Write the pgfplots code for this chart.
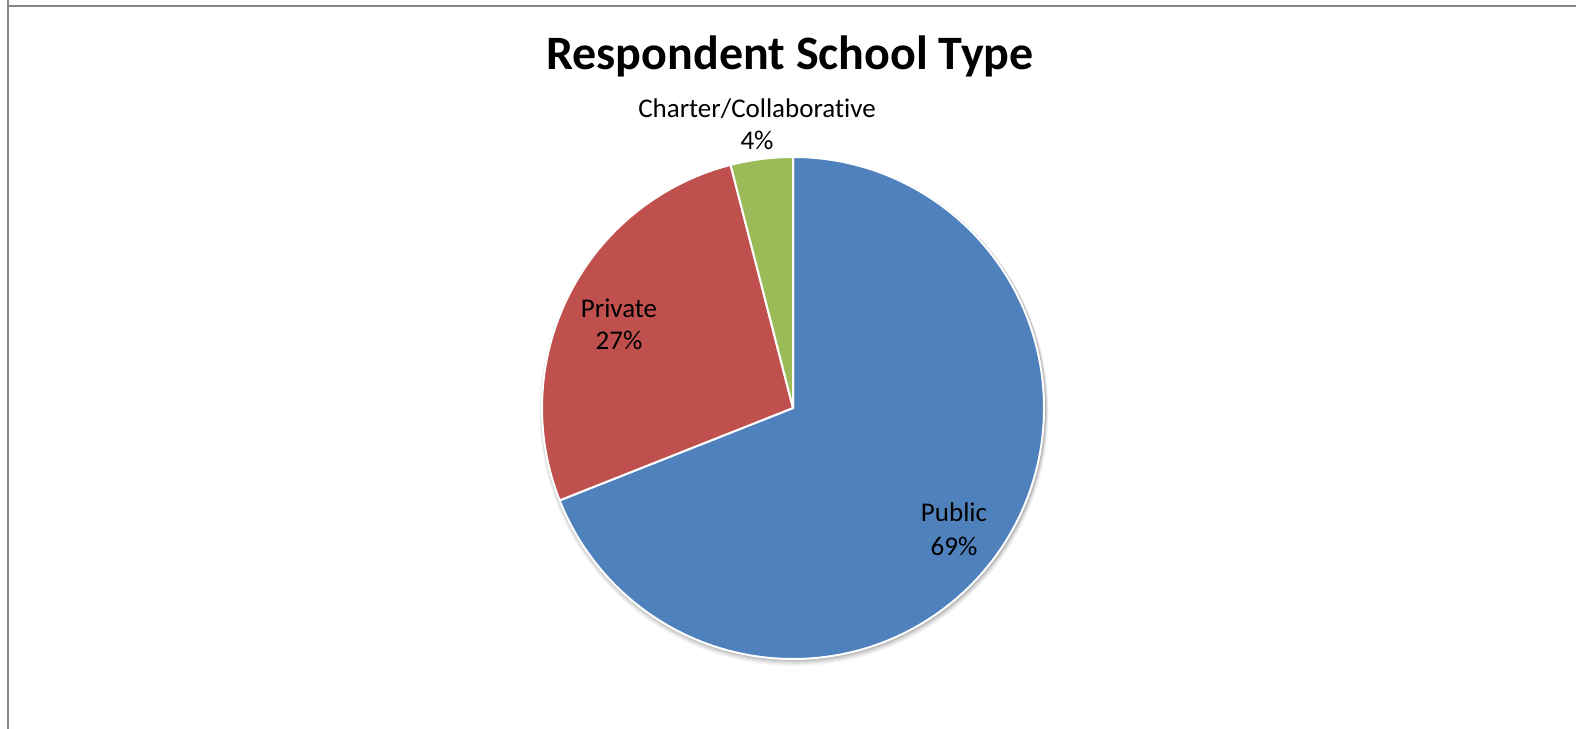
\documentclass[border=0pt]{standalone}
\usepackage{pgfplots}
\usepackage{pgfplotstable}
\pgfplotsset{compat=1.18}
\usepackage{fontspec}
\setmainfont{Carlito}[Ligatures=NoCommon]
\definecolor{pubcol}{HTML}{4F81BD}
\definecolor{pricol}{HTML}{C0504D}
\definecolor{chacol}{HTML}{9BBB59}
\definecolor{framecol}{HTML}{868686}
\pgfplotstableread{
label value
Public 69
Private 27
Charter 4
}\piedata
\begin{document}
\begin{tikzpicture}
\pgfplotstablegetelem{0}{value}\of\piedata \pgfmathsetmacro\va{\pgfplotsretval}
\pgfplotstablegetelem{1}{value}\of\piedata \pgfmathsetmacro\vb{\pgfplotsretval}
\pgfplotstablegetelem{2}{value}\of\piedata \pgfmathsetmacro\vc{\pgfplotsretval}
\pgfmathsetmacro\aA{90}
\pgfmathsetmacro\aB{\aA-3.6*\va}
\pgfmathsetmacro\aC{\aB-3.6*\vb}
\pgfmathsetmacro\aD{\aC-3.6*\vc}
\def\R{251pt}
\begin{axis}[
  scale only axis, width=1576pt, height=728pt,
  xmin=0, xmax=1576, ymin=0, ymax=728,
  hide axis, clip=false,
]
% frame
\draw[framecol, line width=2pt] (axis cs:8,740) rectangle (axis cs:1590,722);
\draw[framecol, line width=2pt] (axis cs:8,722) -- (axis cs:8,-10);
% shadow
\foreach \o/\op in {1/0.10,2/0.08,3/0.06,4/0.05,5/0.04,6/0.03}{
  \edef\tmp{\noexpand\fill[black, opacity=\op] (axis cs:794,{320-\o*0.6}) circle[radius=251pt+\o*0.6pt];}\tmp
}
% slices
\fill[pubcol, draw=white, line width=2pt, line join=round] (axis cs:793,320) -- ++(\aA:\R) arc[start angle=\aA, end angle=\aB, radius=\R] -- cycle;
\fill[pricol, draw=white, line width=2pt, line join=round] (axis cs:793,320) -- ++(\aB:\R) arc[start angle=\aB, end angle=\aC, radius=\R] -- cycle;
\fill[chacol, draw=white, line width=2pt, line join=round] (axis cs:793,320) -- ++(\aC:\R) arc[start angle=\aC, end angle=\aD, radius=\R] -- cycle;
% title
\node[anchor=base, font=\fontsize{48}{56}\selectfont\bfseries] at (axis cs:790,658) {Respondent School Type};
% labels
\node[anchor=base, font=\fontsize{27}{32}\selectfont] at (axis cs:757,610) {Charter/Collaborative};
\node[anchor=base, font=\fontsize{27}{32}\selectfont] at (axis cs:757,578) {4\%};
\node[anchor=base, font=\fontsize{27}{32}\selectfont] at (axis cs:619,410) {Private};
\node[anchor=base, font=\fontsize{27}{32}\selectfont] at (axis cs:619,378) {27\%};
\node[anchor=base, font=\fontsize{27}{32}\selectfont] at (axis cs:954,206) {Public};
\node[anchor=base, font=\fontsize{27}{32}\selectfont] at (axis cs:954,172) {69\%};
\end{axis}
\pgfresetboundingbox
\useasboundingbox (0,0) rectangle (1576pt,728pt);
\end{tikzpicture}
\end{document}
